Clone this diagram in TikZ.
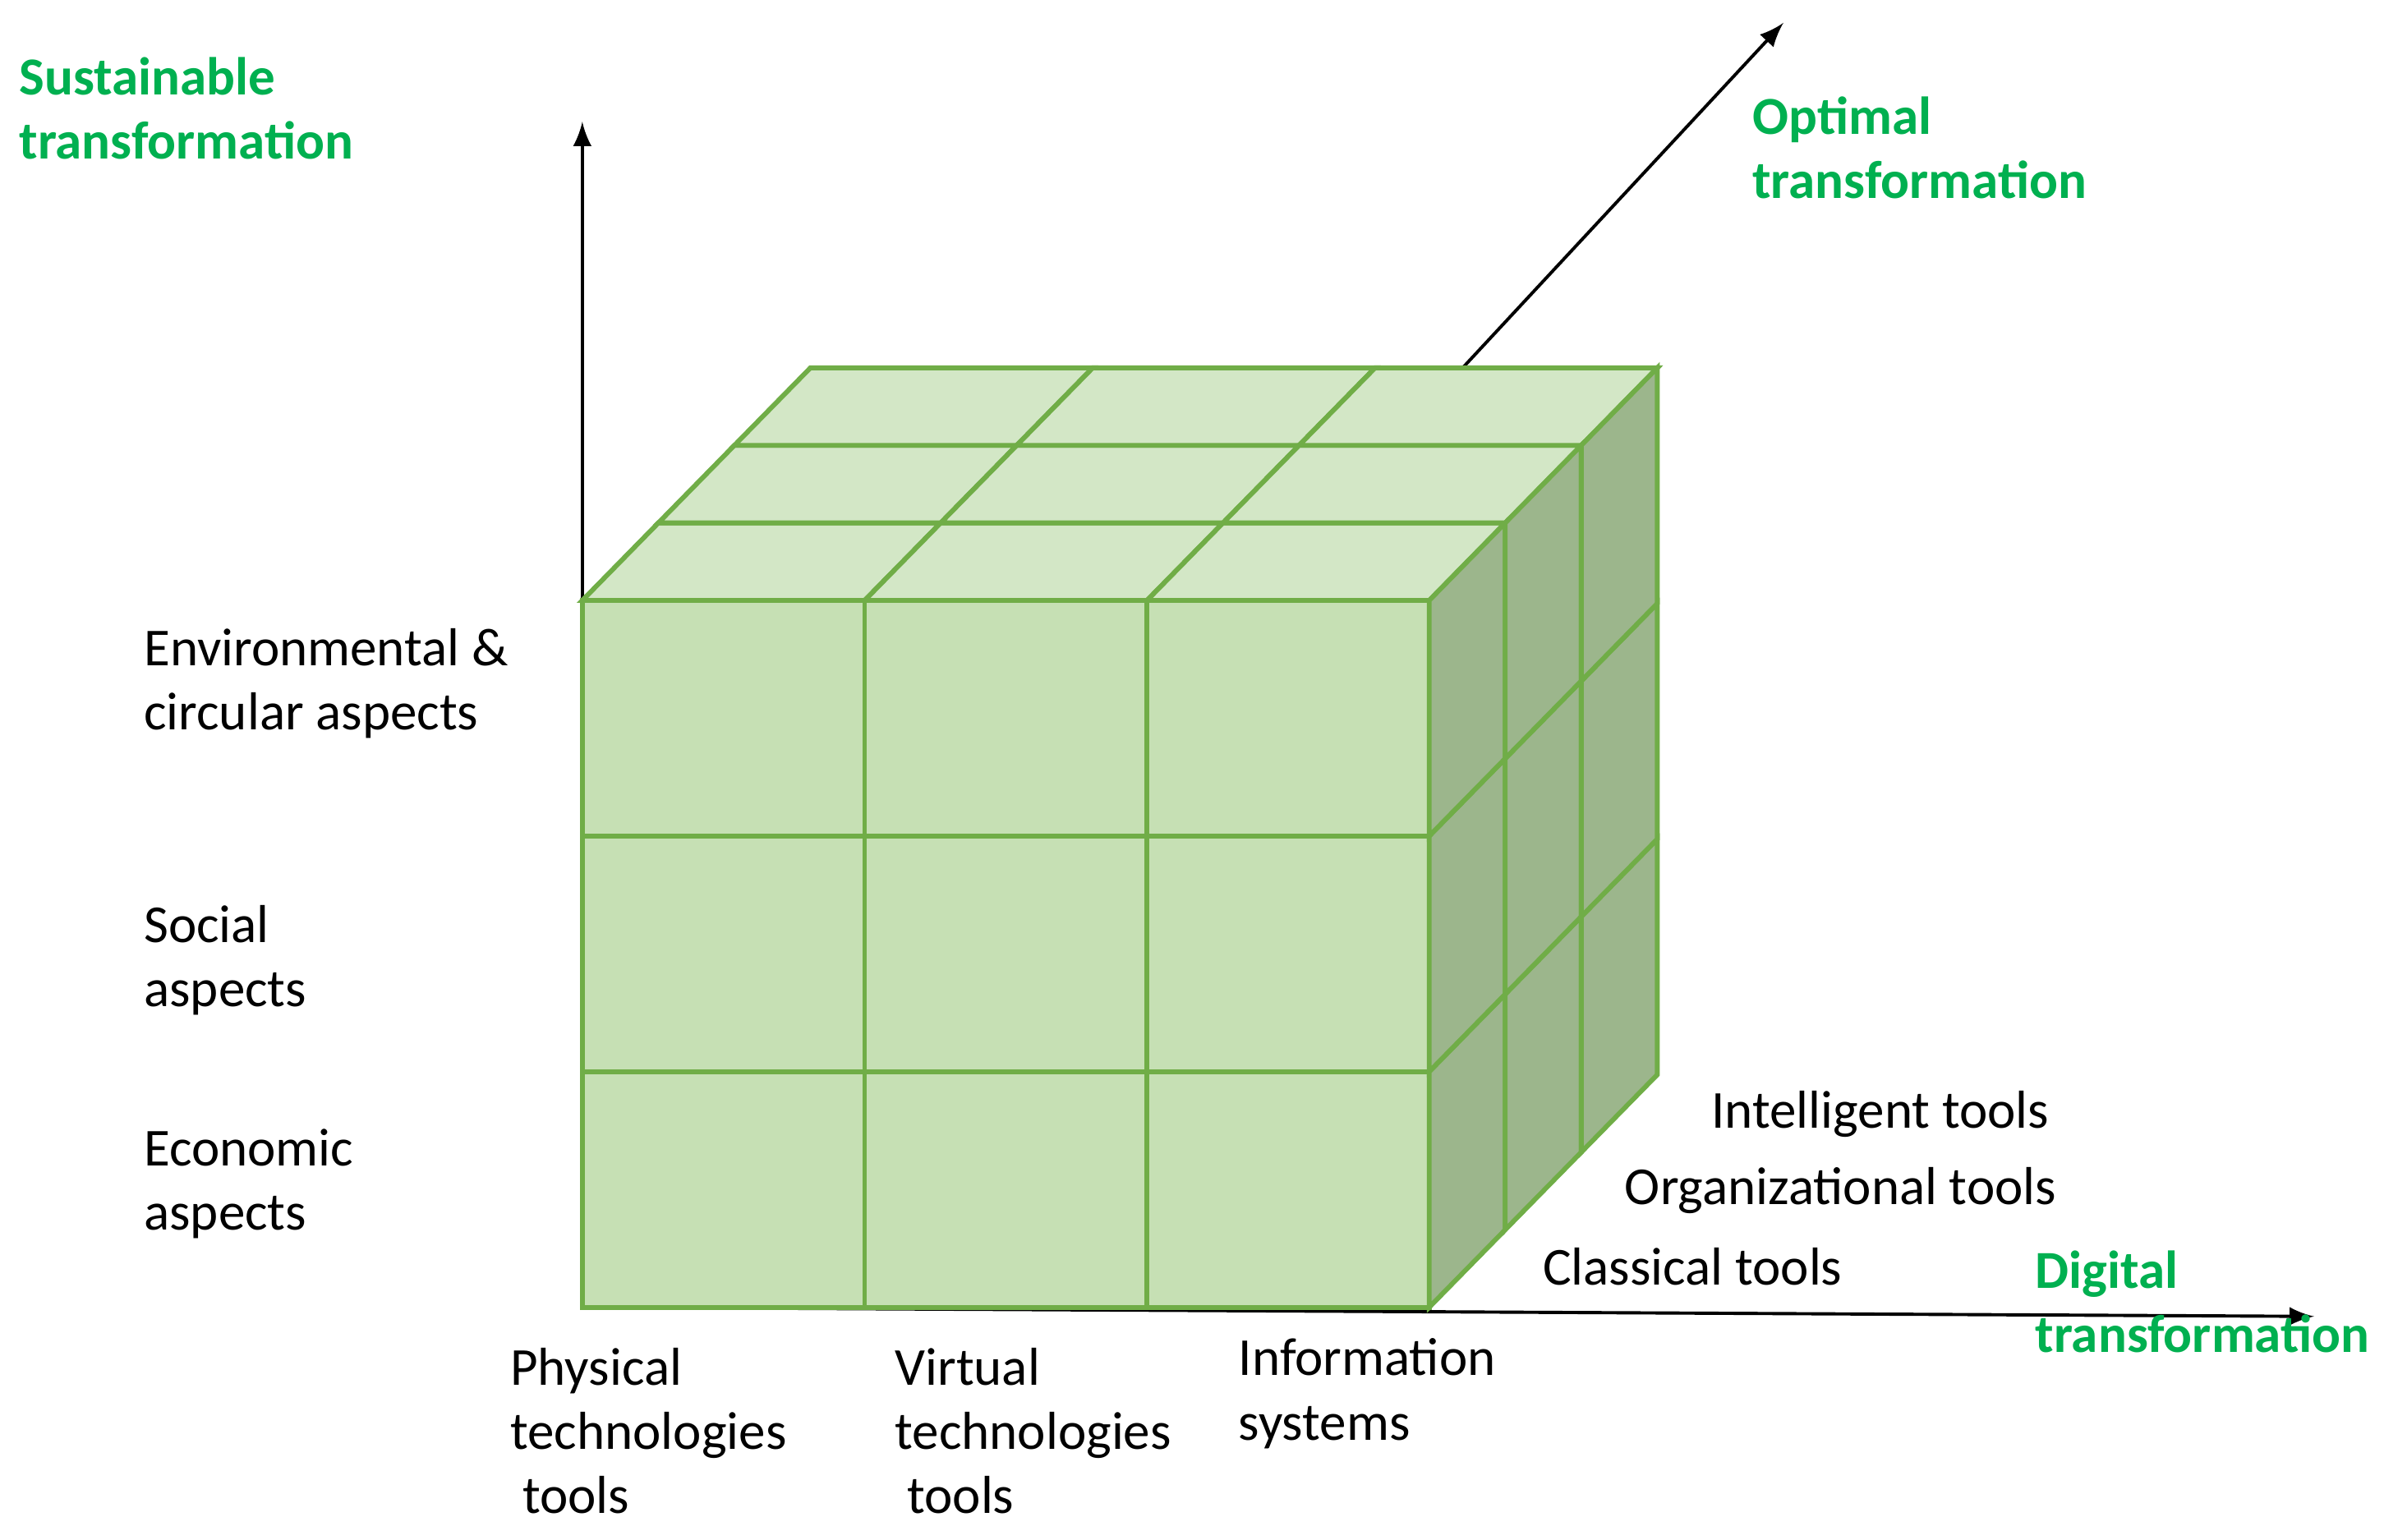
\documentclass[tikz,border=0pt]{standalone}
\usepackage{fontspec}
\setmainfont{Carlito}
\usetikzlibrary{positioning}
\definecolor{frontgreen}{HTML}{C6E0B4}
\definecolor{topgreen}{HTML}{D3E7C6}
\definecolor{sidegreen}{HTML}{9CB68C}
\definecolor{edgegreen}{HTML}{70AD47}
\definecolor{titlegreen}{HTML}{00B050}
\tikzset{
    cell/.style={
        draw=edgegreen,
        line width=0.9pt
    },
    axis/.style={
        draw=black,
        line width=0.6pt,
        -latex
    },
    axislabel/.style={
        anchor=north west,
        align=left,
        inner sep=0pt,
        text=titlegreen,
        font=\fontsize{10}{12}\selectfont\bfseries
    },
    itemlabel/.style={
        anchor=north west,
        align=left,
        inner sep=0pt,
        font=\fontsize{10}{12}\selectfont
    }
}

\begin{document}
\begin{tikzpicture}
    \useasboundingbox (0,0) rectangle (15.68,10.13);

    %% axes
    \coordinate (O) at (3.83,1.53);
    \coordinate (Ytip) at (3.83,9.33);
    \coordinate (Xtip) at (15.22,1.47);
    \coordinate (Dfoot) at (9.62,7.71);
    \coordinate (Dtip) at (11.73,9.98);
    \draw[axis] (O) -- (Ytip);
    \draw[axis] (O) -- (Xtip);
    \draw[axis] (Dfoot) -- (Dtip);

    %% front face
    \foreach \i in {0,1,2}
        \foreach \j in {0,1,2}
            \filldraw[cell,fill=frontgreen]
                ({3.83+\i*1.857},{1.53+\j*1.55}) rectangle ++(1.857,1.55);

    %% top face
    \foreach \i in {0,1,2}
        \foreach \k in {0,1,2}
            \filldraw[cell,fill=topgreen]
                ({3.83+\i*1.857+\k*0.5},{6.18+\k*0.51}) -- ++(1.857,0)
                -- ++(0.5,0.51) -- ++(-1.857,0) -- cycle;

    %% right face
    \foreach \j in {0,1,2}
        \foreach \k in {0,1,2}
            \filldraw[cell,fill=sidegreen]
                ({9.40+\k*0.5},{1.53+\j*1.55+\k*0.51}) -- ++(0,1.55)
                -- ++(0.5,0.51) -- ++(0,-1.55) -- cycle;

    %% axis titles
    \node (sust) [axislabel] at (0.12,9.76) {Sustainable\\transformation};
    \node (opt) [axislabel] at (11.52,9.50) {Optimal\\transformation};
    \node (dig) [axislabel] at (13.38,1.91) {Digital\\transformation};

    %% sustainability levels
    \node (env) [itemlabel] at (0.94,6.00) {Environmental \&\\circular aspects};
    \node (soc) [itemlabel] at (0.94,4.18) {Social\\aspects};
    \node (eco) [itemlabel] at (0.94,2.71) {Economic\\aspects};

    %% technology columns
    \node (phys) [itemlabel] at (3.35,1.27) {Physical\\technologies\\\ tools};
    \node (virt) [itemlabel] at (5.88,1.27) {Virtual\\technologies\\\ tools};
    \node (info) [itemlabel] at (8.14,1.33) {Information\\systems};

    %% tool depths
    \node (intel) [itemlabel] at (11.25,2.96) {Intelligent tools};
    \node (org) [itemlabel] at (10.68,2.46) {Organizational tools};
    \node (clas) [itemlabel] at (10.14,1.93) {Classical tools};
\end{tikzpicture}
\end{document}
